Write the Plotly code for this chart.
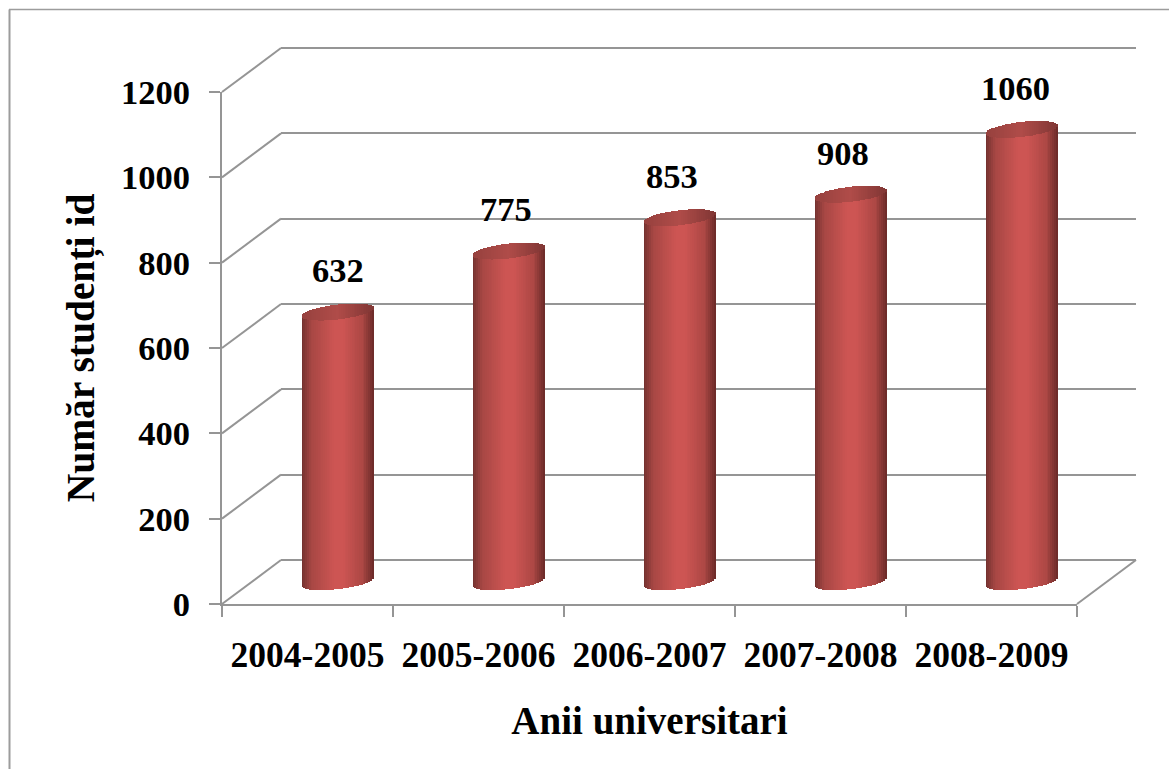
import math
import plotly.graph_objects as go

categories = ["2004-2005", "2005-2006", "2006-2007", "2007-2008", "2008-2009"]
students = [632, 775, 853, 908, 1060]
y_ticks = [0, 200, 400, 600, 800, 1000, 1200]
x_title = "Anii universitari"
y_title = "Număr studenți id"

W, H = 1169, 769
L, R, T, B = 222, 1077, 92, 604      # front plane in pixels
DX, DY = 59, 44                      # depth of the box
GREY = "#959595"
FONT = "Liberation Serif"
PX = 1200 / (B - T)                  # data units per pixel
BAR_W = 0.42
N = 40
E, TILT = 7.5 * PX, 4 * PX
PAD = 100                            # extra axis range round hidden axes
LABEL_NUDGE = [1, -2, -7, -7, -6]


def dom_x(a, b):
    return [a / W, b / W]


def dom_y(top, bottom):
    return [1 - bottom / H, 1 - top / H]


def mix(stops, t):
    for (a, ca), (b, cb) in zip(stops, stops[1:]):
        if t <= b:
            f = (t - a) / (b - a)
            c = [round(ca[i] + (cb[i] - ca[i]) * f) for i in range(3)]
            return f"rgb({c[0]},{c[1]},{c[2]})"
    return f"rgb{stops[-1][1]}"


SIDE = [(-1.0, (112, 48, 46)), (-0.75, (165, 70, 67)), (-0.1, (205, 85, 83)),
        (0.15, (205, 85, 83)), (0.7, (172, 71, 68)), (1.0, (105, 42, 40))]
CAP = [(-1.0, (150, 65, 62)), (0.0, (176, 76, 73)), (1.0, (128, 54, 52))]

fig = go.Figure()

# invisible traces so that each set of axes exists
for ax in ("", "2"):
    fig.add_trace(go.Scatter(x=categories, y=students, mode="markers", marker_opacity=0,
                             hoverinfo="skip", showlegend=False,
                             xaxis="x" + ax, yaxis="y" + ax))

slice_w = BAR_W / N
for i in range(N):
    u = -1 + (i + 0.5) * 2 / N
    s = math.sqrt(1 - u * u)
    off = -BAR_W / 2 + i * slice_w
    # cylinder side
    fig.add_trace(go.Bar(
        x=categories, y=[v for v in students],
        base=[TILT * u - E * s] * len(students),
        width=slice_w * 1.2, offset=off,
        marker=dict(color=mix(SIDE, u), line_width=0),
        xaxis="x3", yaxis="y3", showlegend=False, hoverinfo="skip"))
for i in range(N):
    u = -1 + (i + 0.5) * 2 / N
    s = math.sqrt(1 - u * u)
    off = -BAR_W / 2 + i * slice_w
    # cylinder cap
    fig.add_trace(go.Bar(
        x=categories, y=[2 * E * s] * len(students),
        base=[v + TILT * u - E * s for v in students],
        width=slice_w * 1.2, offset=off,
        marker=dict(color=mix(CAP, u), line_width=0),
        xaxis="x3", yaxis="y3", showlegend=False, hoverinfo="skip"))

shapes = [
    dict(type="line", xref="paper", yref="paper", x0=9.5 / W, x1=9.5 / W, y0=0, y1=1 - 9.5 / H,
         line=dict(color="#9c9c9c", width=2)),
    dict(type="line", xref="paper", yref="paper", x0=9 / W, x1=1, y0=1 - 9.5 / H, y1=1 - 9.5 / H,
         line=dict(color="#9c9c9c", width=1.5)),
    dict(type="line", xref="paper", yref="paper", x0=R / W, x1=(R + DX) / W,
         y0=1 - B / H, y1=1 - (B - DY) / H, line=dict(color=GREY, width=2), layer="below"),
]
for t in y_ticks:
    py = B - t / PX
    shapes.append(dict(type="line", xref="paper", yref="paper", x0=L / W, x1=(L + DX) / W,
                       y0=1 - py / H, y1=1 - (py - DY) / H,
                       line=dict(color=GREY, width=2), layer="below"))

annotations = [
    dict(x=c, y=v, xref="x3", yref="y3", text=str(v), showarrow=False, yshift=42, xshift=n,
         font=dict(family=FONT, size=34.5, color="black", weight=700))
    for c, v, n in zip(categories, students, LABEL_NUDGE)
]

hidden = dict(visible=False)
pad_px = PAD / PX
fig.update_layout(
    width=W, height=H, autosize=False,
    margin=dict(l=0, r=0, t=0, b=0, autoexpand=False),
    paper_bgcolor="white", plot_bgcolor="rgba(0,0,0,0)",
    barmode="overlay", bargap=0, showlegend=False,
    shapes=shapes, annotations=annotations,
    # back wall
    xaxis=dict(domain=dom_x(L + DX, R + DX), range=[-0.5, 4.5], type="category",
               categoryorder="array", categoryarray=categories, anchor="y", **hidden),
    yaxis=dict(domain=dom_y(T - DY - pad_px / 4, B - DY + pad_px / 4),
               range=[-PAD / 4, 1200 + PAD / 4], anchor="x",
               tickvals=y_ticks, showticklabels=False, showgrid=True, gridcolor=GREY, gridwidth=2,
               zeroline=False, showline=False, ticks=""),
    # front plane with the visible axes
    xaxis2=dict(domain=dom_x(L, R), range=[-0.5, 4.5], type="category", anchor="y2",
                categoryorder="array", categoryarray=categories, tickson="boundaries",
                ticks="outside", ticklen=11, tickwidth=2, tickcolor=GREY,
                showline=True, linecolor=GREY, linewidth=2, showgrid=False, tickangle=0,
                ticklabelstandoff=18,
                tickfont=dict(family=FONT, size=35.5, color="black", weight=700),
                title=dict(text=x_title, standoff=33,
                           font=dict(family=FONT, size=39, color="black", weight=700))),
    yaxis2=dict(domain=dom_y(T, B), range=[0, 1200], anchor="x2",
                tickvals=y_ticks, ticks="outside", ticklen=11, tickwidth=2, tickcolor=GREY,
                showline=True, linecolor=GREY, linewidth=2, showgrid=False, zeroline=False,
                ticklabelstandoff=12,
                tickfont=dict(family=FONT, size=34.5, color="black", weight=700),
                title=dict(text=y_title, standoff=14,
                           font=dict(family=FONT, size=39.5, color="black", weight=700))),
    # plane through the bars
    xaxis3=dict(domain=dom_x(L + DX / 2, R + DX / 2), range=[-0.5, 4.5], type="category", anchor="y3",
                categoryorder="array", categoryarray=categories, **hidden),
    yaxis3=dict(domain=dom_y(T - DY / 2 - pad_px / 4, B - DY / 2 + pad_px / 4),
                range=[-PAD / 4, 1200 + PAD / 4], anchor="x3", **hidden),
)

fig.write_html("out.html", config=dict(displayModeBar=False),
               post_script="document.body.style.margin='0';")
